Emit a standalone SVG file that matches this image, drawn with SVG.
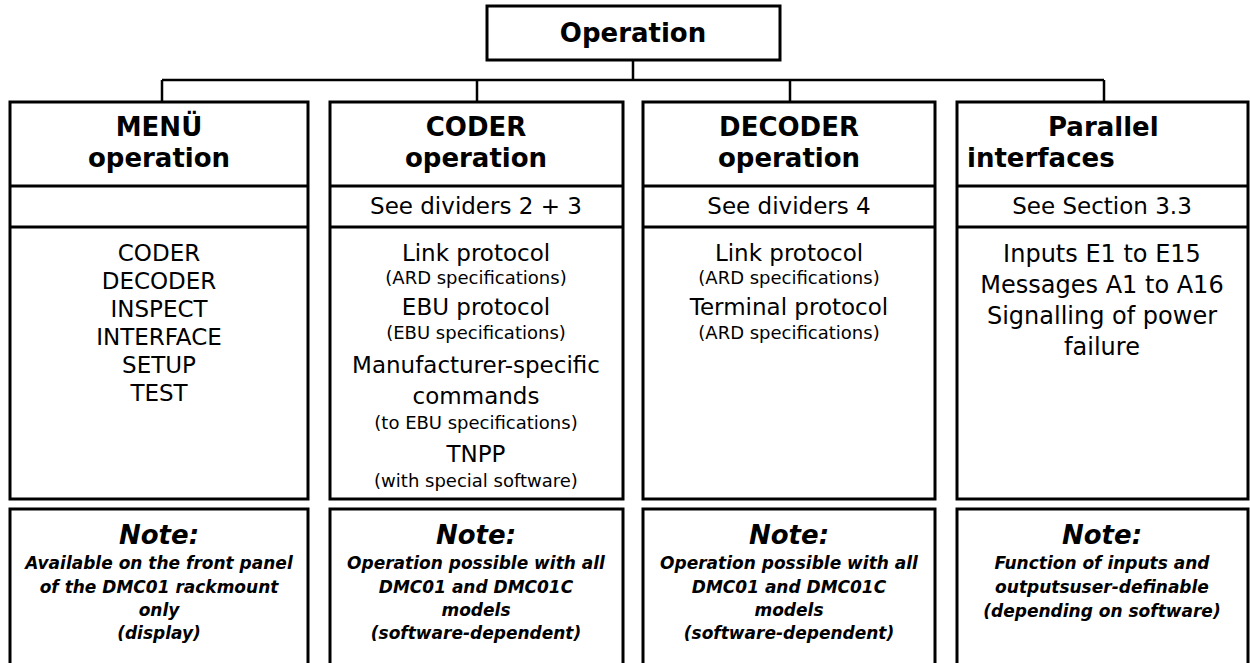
<svg xmlns="http://www.w3.org/2000/svg" width="1250" height="663" viewBox="0 0 1250 663">
<style>
  .box { fill: #fff; stroke: #000; stroke-width: 3; }
  .div { stroke: #000; stroke-width: 3; }
  .con { fill: none; stroke: #000; stroke-width: 2.5; }
  text { font-family: "DejaVu Sans", "Liberation Sans", sans-serif; fill: #000; text-anchor: middle; }
  .title { font-size: 26px; font-weight: bold; }
  .hd { font-size: 26px; font-weight: bold; }
  .sub { font-size: 23px; }
  .b { font-size: 23px; }
  .b4 { font-size: 24px; }
  .s { font-size: 18px; }
  .nt { font-size: 26px; font-weight: bold; font-style: italic; }
  .n { font-size: 17px; font-weight: bold; font-style: italic; }
</style>
<rect width="1250" height="663" fill="#fff"/>

<g id="connectors">
  <path class="con" d="M633 60 V80 M162 80 H1104 M162 80 V102 M477 80 V102 M790 80 V102 M1104 80 V102"/>
</g>

<g id="operation">
  <rect class="box" x="487" y="6" width="293" height="54"/>
  <text class="title" x="633" y="42">Operation</text>
</g>

<g id="menu">
  <rect class="box" x="10" y="102" width="298" height="397"/>
  <line class="div" x1="10" y1="186" x2="308" y2="186"/>
  <line class="div" x1="10" y1="227" x2="308" y2="227"/>
  <text class="hd" x="159" y="136">MENÜ</text>
  <text class="hd" x="159" y="167">operation</text>
  <text class="b" x="159" y="261">CODER</text>
  <text class="b" x="159" y="289">DECODER</text>
  <text class="b" x="159" y="317">INSPECT</text>
  <text class="b" x="159" y="345">INTERFACE</text>
  <text class="b" x="159" y="373">SETUP</text>
  <text class="b" x="159" y="401">TEST</text>
</g>

<g id="coder">
  <rect class="box" x="330" y="102" width="293" height="397"/>
  <line class="div" x1="330" y1="186" x2="623" y2="186"/>
  <line class="div" x1="330" y1="227" x2="623" y2="227"/>
  <text class="hd" x="476" y="136">CODER</text>
  <text class="hd" x="476" y="167">operation</text>
  <text class="sub" x="476" y="214">See dividers 2 + 3</text>
  <text class="b" x="476" y="261">Link protocol</text>
  <text class="s" x="476" y="284">(ARD specifications)</text>
  <text class="b" x="476" y="315">EBU protocol</text>
  <text class="s" x="476" y="339">(EBU specifications)</text>
  <text class="b" x="476" y="373">Manufacturer-specific</text>
  <text class="b" x="476" y="404">commands</text>
  <text class="s" x="476" y="429">(to EBU specifications)</text>
  <text class="b" x="476" y="462">TNPP</text>
  <text class="s" x="476" y="487">(with special software)</text>
</g>

<g id="decoder">
  <rect class="box" x="643" y="102" width="292" height="397"/>
  <line class="div" x1="643" y1="186" x2="935" y2="186"/>
  <line class="div" x1="643" y1="227" x2="935" y2="227"/>
  <text class="hd" x="789" y="136">DECODER</text>
  <text class="hd" x="789" y="167">operation</text>
  <text class="sub" x="789" y="214">See dividers 4</text>
  <text class="b" x="789" y="261">Link protocol</text>
  <text class="s" x="789" y="284">(ARD specifications)</text>
  <text class="b" x="789" y="315">Terminal protocol</text>
  <text class="s" x="789" y="339">(ARD specifications)</text>
</g>

<g id="parallel">
  <rect class="box" x="957" y="102" width="291" height="397"/>
  <line class="div" x1="957" y1="186" x2="1248" y2="186"/>
  <line class="div" x1="957" y1="227" x2="1248" y2="227"/>
  <text class="hd" x="1048" y="136" style="text-anchor:start">Parallel</text>
  <text class="hd" x="967" y="167" style="text-anchor:start">interfaces</text>
  <text class="sub" x="1102" y="214">See Section 3.3</text>
  <text class="b4" x="1102" y="262">Inputs E1 to E15</text>
  <text class="b4" x="1102" y="293">Messages A1 to A16</text>
  <text class="b4" x="1102" y="324">Signalling of power</text>
  <text class="b4" x="1102" y="355">failure</text>
</g>

<g id="note-menu">
  <rect class="box" x="10" y="509" width="298" height="170"/>
  <text class="nt" x="159" y="544">Note:</text>
  <text class="n" x="159" y="569">Available on the front panel</text>
  <text class="n" x="159" y="593">of the DMC01 rackmount</text>
  <text class="n" x="159" y="616">only</text>
  <text class="n" x="159" y="639">(display)</text>
</g>

<g id="note-coder">
  <rect class="box" x="330" y="509" width="293" height="170"/>
  <text class="nt" x="476" y="544">Note:</text>
  <text class="n" x="476" y="569">Operation possible with all</text>
  <text class="n" x="476" y="593">DMC01 and DMC01C</text>
  <text class="n" x="476" y="616">models</text>
  <text class="n" x="476" y="639">(software-dependent)</text>
</g>

<g id="note-decoder">
  <rect class="box" x="643" y="509" width="292" height="170"/>
  <text class="nt" x="789" y="544">Note:</text>
  <text class="n" x="789" y="569">Operation possible with all</text>
  <text class="n" x="789" y="593">DMC01 and DMC01C</text>
  <text class="n" x="789" y="616">models</text>
  <text class="n" x="789" y="639">(software-dependent)</text>
</g>

<g id="note-parallel">
  <rect class="box" x="957" y="509" width="291" height="170"/>
  <text class="nt" x="1102" y="544">Note:</text>
  <text class="n" x="1102" y="569">Function of inputs and</text>
  <text class="n" x="1102" y="593">outputsuser-definable</text>
  <text class="n" x="1102" y="617">(depending on software)</text>
</g>
</svg>
